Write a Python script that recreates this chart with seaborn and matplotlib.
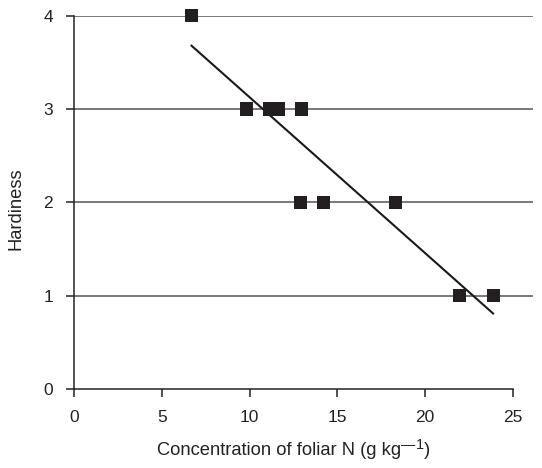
import matplotlib
matplotlib.use("Agg")
import matplotlib.pyplot as plt
import seaborn as sns
import pandas as pd

foliar_n = [6.68, 9.83, 11.14, 11.65, 12.95, 12.89, 14.2, 18.3, 21.94, 23.88]
hardiness = [4, 3, 3, 3, 3, 2, 2, 2, 1, 1]
x_ticks = [0, 5, 10, 15, 20, 25]
y_ticks = [0, 1, 2, 3, 4]
x_label_parts = ["Concentration of foliar N (g kg", "—", "1", ")"]
y_label = "Hardiness"

df = pd.DataFrame({"N": foliar_n, "Hardiness": hardiness})

sns.set_style("white")
plt.rcParams["font.family"] = ["Liberation Sans", "DejaVu Sans"]

W, H = 542, 468
fig = plt.figure(figsize=(W / 100, H / 100), dpi=100)
left, right, top, bottom = 74, 533, 15.7, 389
ax = fig.add_axes([left / W, 1 - bottom / H, (right - left) / W, (bottom - top) / H])

TXT = "#222222"
FS = 12.5
LFS = 13.2
xmax = 25 * (right - left) / (513 - left)
for yv in y_ticks[1:]:
    ax.axhline(yv, color="#555555", lw=1.1, zorder=1)

sns.regplot(data=df, x="N", y="Hardiness", ax=ax, ci=None, truncate=True, marker="s",
            scatter_kws=dict(s=92, color="#231f20", edgecolors="none",
                             clip_on=False, zorder=3, alpha=1),
            line_kws=dict(color="#1a1a1a", lw=1.5, zorder=2))

ax.set_xlim(0, xmax)
ax.set_ylim(0, 4)
ax.set_xticks(x_ticks)
ax.set_yticks(y_ticks)
ax.tick_params(axis="both", direction="out", length=6, width=1.1, color=TXT,
               labelsize=FS, labelcolor=TXT, bottom=True, left=True)
ax.tick_params(axis="x", pad=9)
ax.tick_params(axis="y", pad=9)
for s in ["top", "right"]:
    ax.spines[s].set_visible(False)
ax.spines["bottom"].set_bounds(0, 25)
for s in ["left", "bottom"]:
    ax.spines[s].set_color(TXT)
    ax.spines[s].set_linewidth(1.1)
ax.set_xlabel("")
ax.set_ylabel("")

fig.text(16 / W, 1 - 209 / H, y_label, rotation=90, ha="center", va="center",
         fontsize=LFS, color=TXT)

# x label built from pieces so the superscript dash stays an em dash
renderer = fig.canvas.get_renderer()
base_y = 1 - 455 / H
specs = [(x_label_parts[0], LFS, 0), (x_label_parts[1], LFS * 0.78, 6),
         (x_label_parts[2], LFS * 0.8, 6), (x_label_parts[3], LFS, 0)]
texts = []
for s, fs, dy in specs:
    t = fig.text(0, base_y + dy / H, s, fontsize=fs, color=TXT, ha="left", va="baseline")
    texts.append(t)
widths = [t.get_window_extent(renderer).width for t in texts]
total = sum(widths)
cx = 293.5
x0 = cx - total / 2
for t, w in zip(texts, widths):
    t.set_x(x0 / W)
    x0 += w

fig.savefig("out.png", dpi=100)
